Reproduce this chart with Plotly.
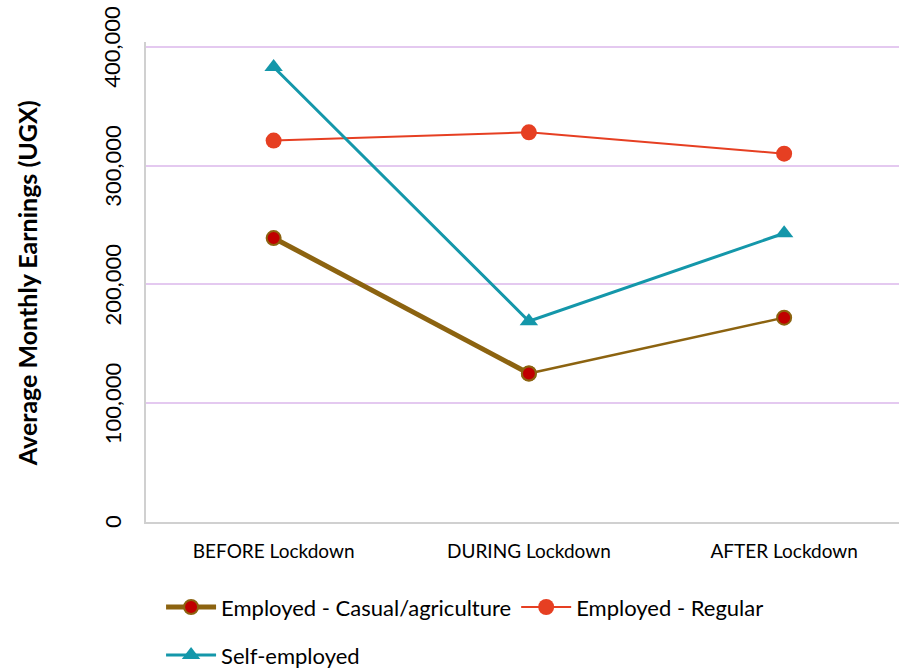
import plotly.graph_objects as go

# Survey periods and average monthly earnings (UGX) by employment type
periods = ["BEFORE Lockdown", "DURING Lockdown", "AFTER Lockdown"]
casual_agri = [239000, 125000, 172000]
regular = [321000, 328000, 310000]
self_employed = [383000, 169000, 243000]
y_ticks = [0, 100000, 200000, 300000, 400000]

BROWN = "#8c6310"
DARKRED = "#c00000"
ORANGE = "#e63f22"
TEAL = "#1497aa"
FONT = "Lato, 'Open Sans', sans-serif"

fig = go.Figure()

# Casual/agriculture: heavy stroke for the first interval, light for the second
fig.add_trace(go.Scatter(
    x=periods[:2], y=casual_agri[:2], mode="lines+markers",
    name="Employed - Casual/agriculture",
    line=dict(color=BROWN, width=5),
    marker=dict(symbol="circle", size=14, color=DARKRED,
                line=dict(color=BROWN, width=2)),
    legend="legend",
))
fig.add_trace(go.Scatter(
    x=periods[1:], y=casual_agri[1:], mode="lines+markers",
    line=dict(color=BROWN, width=2.5),
    marker=dict(symbol="circle", size=14, color=DARKRED,
                line=dict(color=BROWN, width=2)),
    showlegend=False,
))
fig.add_trace(go.Scatter(
    x=periods, y=regular, mode="lines+markers",
    name="Employed - Regular",
    line=dict(color=ORANGE, width=2),
    marker=dict(symbol="circle", size=16, color=ORANGE),
    legend="legend",
))
fig.add_trace(go.Scatter(
    x=periods, y=self_employed, mode="lines+markers",
    name="Self-employed",
    line=dict(color=TEAL, width=3),
    marker=dict(symbol="triangle-up", size=16, color=TEAL),
    legend="legend2",
))

# Vertical y tick labels, centred on their gridlines
tick_notes = [dict(
    text=f"{v:,}", xref="paper", yref="y", x=-0.045, y=v,
    xanchor="center", yanchor="middle", textangle=-90,
    showarrow=False, font=dict(size=22),
) for v in y_ticks]

title_note = dict(
    text="<b>Average Monthly Earnings (UGX)</b>",
    xref="paper", yref="paper", x=-0.157, y=0.497,
    xanchor="center", yanchor="middle", textangle=-90,
    showarrow=False, font=dict(size=25),
)

fig.update_layout(
    width=899, height=668,
    margin=dict(l=146, r=0, t=42, b=146, autoexpand=False),
    paper_bgcolor="white", plot_bgcolor="white",
    font=dict(family=FONT, size=19, color="#000000"),
    legend=dict(orientation="h", x=0.02, xanchor="left",
                yref="container", y=0.091, yanchor="middle",
                font=dict(size=22), itemwidth=50,
                bgcolor="rgba(0,0,0,0)"),
    legend2=dict(orientation="h", x=0.02, xanchor="left",
                 yref="container", y=0.019, yanchor="middle",
                 font=dict(size=22), itemwidth=50,
                 bgcolor="rgba(0,0,0,0)"),
    annotations=tick_notes + [title_note],
)

fig.update_xaxes(
    type="category", range=[-0.5, 2.45],
    showgrid=False, showline=True, linecolor="#d0d0d0", linewidth=2,
    ticks="", tickfont=dict(size=19), ticklabelstandoff=11,
)
fig.update_yaxes(
    range=[0, 404000], tickvals=y_ticks, showticklabels=False,
    showgrid=True, gridcolor="#e4c9f0", gridwidth=2,
    showline=True, linecolor="#d0d0d0", linewidth=2,
    zeroline=False, ticks="",
)

fig.write_html("out.html")
